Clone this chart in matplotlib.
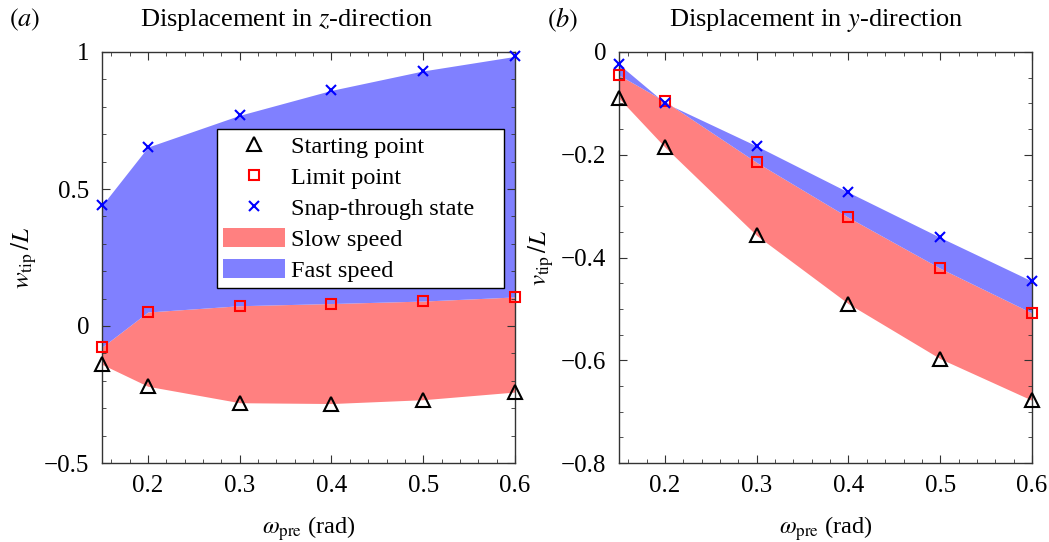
import matplotlib
matplotlib.use("Agg")
import matplotlib.pyplot as plt
from matplotlib.ticker import MultipleLocator
from matplotlib.patches import Patch
from matplotlib.lines import Line2D

plt.rcParams['font.family'] = ['Liberation Serif', 'DejaVu Serif']
plt.rcParams['mathtext.fontset'] = 'stix'
plt.rcParams['font.size'] = 17

omega = [0.15, 0.2, 0.3, 0.4, 0.5, 0.6]

# panel (a): z-direction
w_start = [-0.14, -0.22, -0.28, -0.283, -0.269, -0.241]
w_limit = [-0.077, 0.051, 0.074, 0.082, 0.091, 0.106]
w_snap = [0.44, 0.653, 0.769, 0.86, 0.931, 0.984]

# panel (b): y-direction
v_start = [-0.09, -0.185, -0.357, -0.49, -0.597, -0.678]
v_limit = [-0.045, -0.096, -0.215, -0.322, -0.421, -0.508]
v_snap = [-0.024, -0.099, -0.183, -0.273, -0.361, -0.446]

xticks = [0.2, 0.3, 0.4, 0.5, 0.6]
xticklabels = ['0.2', '0.3', '0.4', '0.5', '0.6']
w_ticks = [-0.5, 0, 0.5, 1]
w_ticklabels = ['\u22120.5', '0', '0.5', '1']
v_ticks = [-0.8, -0.6, -0.4, -0.2, 0]
v_ticklabels = ['\u22120.8', '\u22120.6', '\u22120.4', '\u22120.2', '0']

red = '#ff8080'
blue = '#8080ff'
W, H = 1049, 542

fig = plt.figure(figsize=(W / 100, H / 100), dpi=100)
axw, axh = 413 / W, 411 / H
ax1 = fig.add_axes([102 / W, 79 / H, axw, axh])
ax2 = fig.add_axes([619 / W, 79 / H, axw, axh])

def draw(ax, start, limit, snap):
    ax.fill_between(omega, start, limit, color=red, lw=0, zorder=1)
    ax.fill_between(omega, limit, snap, color=blue, lw=0, zorder=1)
    ax.plot(omega, start, ls='none', marker='^', ms=10, mfc='none', mec='black', mew=1.5, zorder=3, clip_on=False)
    ax.plot(omega, limit, ls='none', marker='s', ms=7.5, mfc='none', mec='red', mew=1.5, zorder=3, clip_on=False)
    ax.plot(omega, snap, ls='none', marker='x', ms=7, mec='blue', mew=1.5, zorder=3, clip_on=False)
    ax.set_xlim(0.15, 0.6)
    ax.set_xticks(xticks)
    ax.set_xticklabels(xticklabels)
    ax.xaxis.set_minor_locator(MultipleLocator(0.02))
    ax.tick_params(which='both', direction='in', top=True, right=True, color='#333333')
    ax.tick_params(which='major', length=6, labelsize=18, pad=9)
    ax.tick_params(which='minor', length=3)
    for s in ax.spines.values():
        s.set_color('#333333')
        s.set_linewidth(1.0)
    ax.set_xlabel(r'$\omega_{\rm pre}$ (rad)', fontsize=17.5, labelpad=12)

draw(ax1, w_start, w_limit, w_snap)
ax1.set_ylim(-0.5, 1)
ax1.set_yticks(w_ticks)
ax1.set_yticklabels(w_ticklabels)
ax1.yaxis.set_minor_locator(MultipleLocator(0.1))
ax1.set_ylabel(r'$w_{\rm tip}\,/L$', fontsize=18, labelpad=4)

draw(ax2, v_start, v_limit, v_snap)
ax2.set_ylim(-0.8, 0)
ax2.set_yticks(v_ticks)
ax2.set_yticklabels(v_ticklabels)
ax2.yaxis.set_minor_locator(MultipleLocator(0.05))
ax2.set_ylabel(r'$v_{\rm tip}\,/L$', fontsize=18, labelpad=4)

fig.text(287 / W, 1 - 20 / H, r'Displacement in $z$-direction', fontsize=19, ha='center', va='center')
fig.text(816 / W, 1 - 20 / H, r'Displacement in $y$-direction', fontsize=19, ha='center', va='center')
fig.text(9 / W, 1 - 20 / H, r'$(a)$', fontsize=19, va='center', ha='left')
fig.text(547 / W, 1 - 20 / H, r'$(b)$', fontsize=19, va='center', ha='left')

handles = [
    Line2D([], [], ls='none', marker='^', ms=10, mfc='none', mec='black', mew=1.5),
    Line2D([], [], ls='none', marker='s', ms=7.5, mfc='none', mec='red', mew=1.5),
    Line2D([], [], ls='none', marker='x', ms=7, mec='blue', mew=1.5),
    Patch(facecolor=red, edgecolor='none'),
    Patch(facecolor=blue, edgecolor='none'),
]
labels = ['Starting point', 'Limit point', 'Snap-through state', 'Slow speed', 'Fast speed']
leg = ax1.legend(handles, labels, loc='upper left', mode='expand',
                 bbox_to_anchor=((217 - 102) / 413, 0.0, (504 - 217) / 413, (463 - 129) / 411),
                 fancybox=False, framealpha=1, edgecolor='black',
                 handlelength=2.55, handleheight=0.82, handletextpad=0.25,
                 labelspacing=0.33, borderpad=0.25, borderaxespad=0, fontsize=17.5)
leg.get_frame().set_linewidth(1.0)

fig.savefig('out.png', dpi=100)
